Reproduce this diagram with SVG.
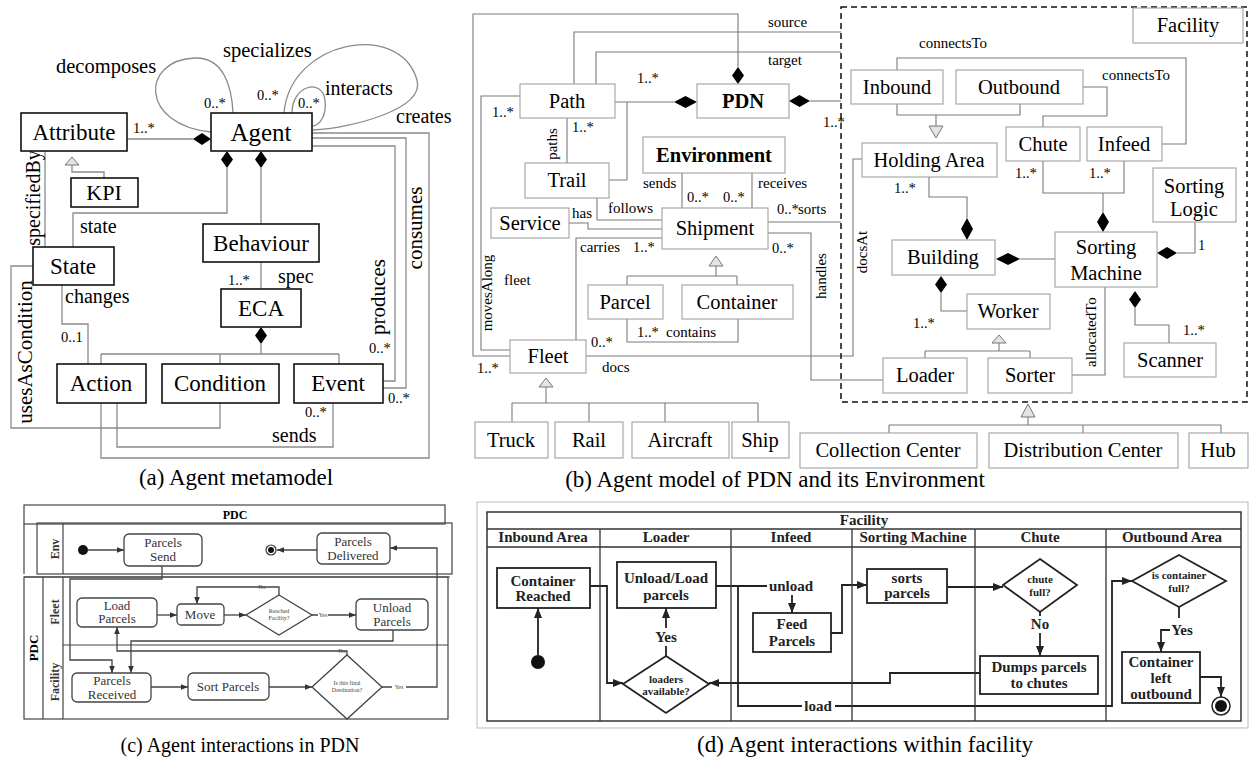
<svg xmlns="http://www.w3.org/2000/svg" width="1249" height="761" viewBox="0 0 1249 761">
<defs>
<style>
text{font-family:"Liberation Serif","Times New Roman",serif;fill:#000}
.ba{fill:#fff;stroke:#111;stroke-width:1.6}
.bb{fill:#fff;stroke:#a0a0a0;stroke-width:1.1}
.la{fill:none;stroke:#8a8a8a;stroke-width:1.3}
.lb{fill:none;stroke:#7a7a7a;stroke-width:1.1}
.dia{fill:#000}
.gen{fill:#e4e4e4;stroke:#777;stroke-width:1}
.ta{font-size:23px;text-anchor:middle}
.tb{font-size:20.5px;text-anchor:middle}
.l20{font-size:20px}
.l15{font-size:15px}
.m{font-size:14.5px}
.cap{font-size:23px;text-anchor:middle}
.bc{fill:#fff;stroke:#444;stroke-width:1.3}
.lc{fill:none;stroke:#444;stroke-width:1.3}
.tc{font-size:13px;text-anchor:middle;fill:#333}
.ts{font-size:6px;text-anchor:middle;fill:#444}
.bd{fill:#fff;stroke:#222;stroke-width:1.8}
.ld{fill:none;stroke:#222;stroke-width:1.8}
.td{font-size:15px;font-weight:bold;text-anchor:middle;fill:#222}
.tdd{font-size:11px;font-weight:bold;text-anchor:middle;fill:#222}
.mid{text-anchor:middle}
</style>
<marker id="ah" viewBox="0 0 10 8" refX="10" refY="4" markerWidth="10" markerHeight="8" markerUnits="userSpaceOnUse" orient="auto"><path d="M0,0 L10,4 L0,8 z" fill="#222"/></marker>
<marker id="ahs" viewBox="0 0 10 8" refX="10" refY="4" markerWidth="7" markerHeight="6" markerUnits="userSpaceOnUse" orient="auto"><path d="M0,0 L10,4 L0,8 z" fill="#333"/></marker>
</defs>
<rect width="1249" height="761" fill="#fff"/>

<g id="connectors">
<g id="a-connectors">
<path class="la" d="M127,139 H193"/>
<polygon class="dia" points="193,139 202,133 211,139 202,145"/>
<path class="la" d="M211,132 C140,125 140,60 195,58 C225,57 232,90 233,113"/>
<path class="la" d="M284,113 C290,40 400,20 417,80 C425,110 350,128 313,130"/>
<path class="la" d="M292,113 C292,85 322,78 325,100 C327,115 320,125 313,126"/>
<polygon class="gen" points="72,157 79,165 65,165"/>
<path class="la" d="M72,165 V172 H104 V178"/>
<path class="la" d="M45,151 V247"/>
<polygon class="dia" points="227,151 233,159.5 227,168 221,159.5"/>
<polygon class="dia" points="261,151 267,159.5 261,168 255,159.5"/>
<path class="la" d="M227,168 V213 H73 V247"/>
<path class="la" d="M261,168 V224"/>
<path class="la" d="M33,266 H11 V428 H220 V403"/>
<path class="la" d="M62,285 V324 H88 V364"/>
<path class="la" d="M261,262 V289"/>
<polygon class="dia" points="261,327 267,335.5 261,344 255,335.5"/>
<path class="la" d="M261,344 V354 M101,354 H339 M101,354 V364 M220,354 V364 M339,354 V364"/>
<path class="la" d="M117,403 V447 H333 V403"/>
<path class="la" d="M312,133 H429 V458 H101 V403"/>
<path class="la" d="M312,138 H406 V388 H383"/>
<path class="la" d="M312,146 H395 V381 H383"/>
</g>

<g id="b-connectors">
<path class="lb" d="M738,67 V14 H473 V356 H510"/>
<polygon class="dia" points="738,67 744,75.5 738,84 732,75.5"/>
<path class="lb" d="M574,84 V32 H841"/>
<path class="lb" d="M596,84 V52 H841"/>
<path class="lb" d="M615,102 H674"/>
<polygon class="dia" points="674,102 685.5,96 697,102 685.5,108"/>
<path class="lb" d="M810,101 H841"/>
<polygon class="dia" points="789,101 799.5,95 810,101 799.5,107"/>
<path class="lb" d="M520,96 H481 V350 H510"/>
<path class="lb" d="M567,118 V163"/>
<path class="lb" d="M609,180 H627 V102"/>
<path class="lb" d="M597,198 V220 H662"/>
<path class="lb" d="M569,223 H588 V229 H662"/>
<path class="lb" d="M682,173 V208"/>
<path class="lb" d="M752,173 V208"/>
<path class="lb" d="M662,238 H576 V340"/>
<path class="lb" d="M768,222 H841"/>
<path class="lb" d="M768,233 H811 V380 H883"/>
<path class="lb" d="M586,356 H853 V159 H862"/>
<polygon class="gen" points="716,256 723,266 709,266"/>
<path class="lb" d="M716,266 V276 M627,276 H737 M627,276 V285 M737,276 V285"/>
<path class="lb" d="M627,319 V342 H738 V319"/>
<polygon class="gen" points="546,378 553,387 539,387"/>
<path class="lb" d="M546,387 V403 M512,403 H758 M512,403 V422 M589,403 V422 M665,403 V422 M758,403 V422"/>
<path class="lb" d="M897,70 V58 H1186 V144 H1162"/>
<path class="lb" d="M1083,87 H1107 V116 H1043 V127"/>
<path class="lb" d="M897,104 V115 H1020 V104 M936,115 V126"/>
<polygon class="gen" points="929,126 943,126 936,138"/>
<path class="lb" d="M929,177 V197 H967 V218"/>
<polygon class="dia" points="967,218 973,229 967,240 961,229"/>
<path class="lb" d="M1043,161 V193 H1124 V161 M1103,193 V212"/>
<polygon class="dia" points="1103,212 1109,222 1103,232 1097,222"/>
<path class="lb" d="M1195,222 V253 H1177"/>
<polygon class="dia" points="1157,253 1167,247 1177,253 1167,259"/>
<path class="lb" d="M1020,259 H1055"/>
<polygon class="dia" points="996,259 1008,253 1020,259 1008,265"/>
<polygon class="dia" points="941,276 947,284.5 941,293 935,284.5"/>
<path class="lb" d="M941,293 V311 H967"/>
<polygon class="gen" points="999,335 1006,343 992,343"/>
<path class="lb" d="M999,343 V351 M925,351 H1030 M925,351 V358 M1030,351 V358"/>
<path class="lb" d="M1072,375 H1105 V287"/>
<polygon class="dia" points="1135,291 1141,299.5 1135,308 1129,299.5"/>
<path class="lb" d="M1135,308 V325 H1169 V343"/>
<polygon class="gen" points="1028,404 1035,417 1021,417"/>
<path class="lb" d="M1028,417 V425 M889,425 H1221 M889,425 V433 M1083,425 V433 M1221,425 V433"/>
</g>

<g id="c-connectors">
<path class="lc" d="M88,550 H124" marker-end="url(#ahs)"/>
<path class="lc" d="M317,550 H277" marker-end="url(#ahs)"/>
<path class="lc" d="M157,615 H177" marker-end="url(#ahs)"/>
<path class="lc" d="M224,615 H246" marker-end="url(#ahs)"/>
<path class="lc" d="M312,615 H318 M328,615 H356" marker-end="url(#ahs)"/>
<path class="lc" d="M279,595 V587 H197 V604" marker-end="url(#ahs)"/>
<path class="lc" d="M162,566 V579 H70 V660 H112 V673" marker-end="url(#ahs)"/>
<path class="lc" d="M393,630 V641 H131 V673" marker-end="url(#ahs)"/>
<path class="lc" d="M347,655 V651 H117 V627" marker-end="url(#ahs)"/>
<path class="lc" d="M151,687 H188" marker-end="url(#ahs)"/>
<path class="lc" d="M269,687 H312" marker-end="url(#ahs)"/>
<path class="lc" d="M382,687 H392 M406,687 H437 V548 H390" marker-end="url(#ahs)"/>
</g>

<g id="d-connectors">
<path class="ld" d="M538,655 V608" marker-end="url(#ah)"/>
<path class="ld" d="M590,586 H607 V683 H623" marker-end="url(#ah)"/>
<path class="ld" d="M666,656 V646"/>
<path class="ld" d="M666,628 V608" marker-end="url(#ah)"/>
<path class="ld" d="M716,586 H767"/>
<path class="ld" d="M792,595 V613" marker-end="url(#ah)"/>
<path class="ld" d="M738,586 V706 H802"/>
<path class="ld" d="M835,706 H1112 V581 H1132" marker-end="url(#ah)"/>
<path class="ld" d="M831,633 H842 V585 H867" marker-end="url(#ah)"/>
<path class="ld" d="M947,587 H1003" marker-end="url(#ah)"/>
<path class="ld" d="M1040,612 V616"/>
<path class="ld" d="M1040,633 V656" marker-end="url(#ah)"/>
<path class="ld" d="M980,673 H890 V683 H709" marker-end="url(#ah)"/>
<path class="ld" d="M1179,607 V618"/>
<path class="ld" d="M1170,630 H1161 V652" marker-end="url(#ah)"/>
<path class="ld" d="M1200,677 H1221 V697" marker-end="url(#ah)"/>
</g>
</g>

<g id="a-labels">
<text class="m" x="133" y="133">1..*</text>
<text class="l20" x="56" y="73" style="font-size:20.5px">decomposes</text>
<text class="l20" x="223" y="57" style="font-size:20.5px">specializes</text>
<text class="l20" x="325" y="95">interacts</text>
<text class="l20" x="396" y="123">creates</text>
<text class="m" x="204" y="108">0..*</text>
<text class="m" x="257" y="100">0..*</text>
<text class="m" x="298" y="108">0..*</text>
<text class="l20" x="80" y="233">state</text>
<text class="l20 mid" transform="translate(40,198) rotate(-90)">specifiedBy</text>
<text class="l20 mid" transform="translate(32,352) rotate(-90)" style="font-size:21px">usesAsCondition</text>
<text class="l20" x="65" y="303">changes</text>
<text class="m" x="61" y="342">0..1</text>
<text class="m" x="228" y="285">1..*</text>
<text class="l20" x="278" y="283">spec</text>
<text class="l20" x="272" y="442">sends</text>
<text class="m" x="305" y="417">0..*</text>
<text class="l20 mid" transform="translate(385,297) rotate(-90)" style="font-size:21px">produces</text>
<text class="l20 mid" transform="translate(422,228) rotate(-90)" style="font-size:21px">consumes</text>
<text class="m" x="369" y="353">0..*</text>
<text class="m" x="388" y="403">0..*</text>
</g>

<g id="a-attribute"><rect class="ba" x="21" y="113" width="106" height="38"/><text class="ta" x="74" y="140">Attribute</text></g>
<g id="a-agent"><rect class="ba" x="211" y="113" width="101" height="38"/><text class="ta" x="261" y="141" style="font-size:25px">Agent</text></g>
<g id="a-kpi"><rect class="ba" x="71" y="178" width="67" height="29"/><text class="ta" x="104" y="200" style="font-size:22px">KPI</text></g>
<g id="a-state"><rect class="ba" x="33" y="247" width="81" height="38"/><text class="ta" x="73" y="274">State</text></g>
<g id="a-behaviour"><rect class="ba" x="203" y="224" width="116" height="38"/><text class="ta" x="261" y="251">Behaviour</text></g>
<g id="a-eca"><rect class="ba" x="221" y="289" width="80" height="38"/><text class="ta" x="261" y="316">ECA</text></g>
<g id="a-action"><rect class="ba" x="57" y="364" width="89" height="39"/><text class="ta" x="101" y="391">Action</text></g>
<g id="a-condition"><rect class="ba" x="162" y="364" width="117" height="39"/><text class="ta" x="220" y="391">Condition</text></g>
<g id="a-event"><rect class="ba" x="294" y="364" width="89" height="39"/><text class="ta" x="338" y="391">Event</text></g>
<text class="cap" x="236" y="485">(a) Agent metamodel</text>

<g id="b-facility-frame"><rect x="841" y="7" width="406" height="395" fill="none" stroke="#111" stroke-width="1.5" stroke-dasharray="6,4"/></g>
<g id="b-labels">
<text class="l15" x="768" y="27">source</text>
<text class="l15" x="768" y="65">target</text>
<text class="m" x="637" y="83">1..*</text>
<text class="m" x="823" y="127">1..*</text>
<text class="m" x="492" y="117">1..*</text>
<text class="l15 mid" transform="translate(492,293) rotate(-90)">movesAlong</text>
<text class="l15" x="504" y="285">fleet</text>
<text class="l15 mid" transform="translate(557,144) rotate(-90)">paths</text>
<text class="m" x="572" y="132">1..*</text>
<text class="l15" x="608" y="213">follows</text>
<text class="l15" x="572" y="218">has</text>
<text class="l15" x="643" y="188">sends</text>
<text class="m" x="687" y="202">0..*</text>
<text class="m" x="723" y="202">0..*</text>
<text class="l15" x="758" y="188">receives</text>
<text class="l15" x="580" y="252">carries</text>
<text class="m" x="633" y="252">1..*</text>
<text class="m" x="777" y="214">0..*</text>
<text class="l15" x="798" y="214">sorts</text>
<text class="m" x="772" y="253">0..*</text>
<text class="l15 mid" transform="translate(826,276) rotate(-90)">handles</text>
<text class="l15 mid" transform="translate(867,252) rotate(-90)">docsAt</text>
<text class="m" x="591" y="347">0..*</text>
<text class="l15" x="602" y="372">docs</text>
<text class="m" x="477" y="373">1..*</text>
<text class="m" x="637" y="337">1..*</text>
<text class="l15" x="666" y="337">contains</text>
<text class="l15" x="919" y="48">connectsTo</text>
<text class="l15" x="1102" y="80">connectsTo</text>
<text class="m" x="894" y="193">1..*</text>
<text class="m" x="1015" y="178">1..*</text>
<text class="m" x="1089" y="178">1..*</text>
<text class="m" x="1198" y="250">1</text>
<text class="m" x="913" y="328">1..*</text>
<text class="m" x="1183" y="335">1..*</text>
<text class="l15 mid" transform="translate(1096,332) rotate(-90)">allocatedTo</text>
</g>
<g id="b-path"><rect class="bb" x="520" y="84" width="95" height="34"/><text class="tb" x="567" y="108">Path</text></g>
<g id="b-pdn"><rect class="bb" x="697" y="84" width="92" height="34"/><text class="tb" x="743" y="108" font-weight="bold">PDN</text></g>
<g id="b-trail"><rect class="bb" x="525" y="163" width="84" height="35"/><text class="tb" x="567" y="187">Trail</text></g>
<g id="b-environment"><rect class="bb" x="643" y="137" width="142" height="36"/><text class="tb" x="714" y="162" font-weight="bold">Environment</text></g>
<g id="b-service"><rect class="bb" x="491" y="208" width="78" height="30"/><text class="tb" x="530" y="230">Service</text></g>
<g id="b-shipment"><rect class="bb" x="662" y="208" width="106" height="41"/><text class="tb" x="715" y="235">Shipment</text></g>
<g id="b-parcel"><rect class="bb" x="588" y="285" width="75" height="34"/><text class="tb" x="625" y="309">Parcel</text></g>
<g id="b-container"><rect class="bb" x="682" y="285" width="111" height="34"/><text class="tb" x="737" y="309">Container</text></g>
<g id="b-fleet"><rect class="bb" x="510" y="340" width="76" height="33"/><text class="tb" x="548" y="363">Fleet</text></g>
<g id="b-truck"><rect class="bb" x="475" y="422" width="73" height="36"/><text class="tb" x="511" y="447">Truck</text></g>
<g id="b-rail"><rect class="bb" x="555" y="422" width="68" height="36"/><text class="tb" x="589" y="447">Rail</text></g>
<g id="b-aircraft"><rect class="bb" x="632" y="422" width="97" height="36"/><text class="tb" x="680" y="447">Aircraft</text></g>
<g id="b-ship"><rect class="bb" x="732" y="422" width="57" height="36"/><text class="tb" x="760" y="447">Ship</text></g>
<g id="b-facility"><rect class="bb" x="1133" y="8" width="110" height="35"/><text class="tb" x="1188" y="32">Facility</text></g>
<g id="b-inbound"><rect class="bb" x="851" y="70" width="92" height="34"/><text class="tb" x="897" y="94">Inbound</text></g>
<g id="b-outbound"><rect class="bb" x="956" y="70" width="127" height="34"/><text class="tb" x="1019" y="94">Outbound</text></g>
<g id="b-holding"><rect class="bb" x="862" y="143" width="135" height="34"/><text class="tb" x="929" y="167">Holding Area</text></g>
<g id="b-chute"><rect class="bb" x="1006" y="127" width="74" height="34"/><text class="tb" x="1043" y="151">Chute</text></g>
<g id="b-infeed"><rect class="bb" x="1087" y="127" width="75" height="34"/><text class="tb" x="1124" y="151">Infeed</text></g>
<g id="b-sortinglogic"><rect class="bb" x="1153" y="168" width="83" height="54"/><text class="tb" x="1194" y="193">Sorting</text><text class="tb" x="1194" y="216">Logic</text></g>
<g id="b-sortingmachine"><rect class="bb" x="1055" y="232" width="102" height="55"/><text class="tb" x="1106" y="254">Sorting</text><text class="tb" x="1106" y="280">Machine</text></g>
<g id="b-building"><rect class="bb" x="892" y="240" width="103" height="35"/><text class="tb" x="943" y="264">Building</text></g>
<g id="b-worker"><rect class="bb" x="967" y="294" width="83" height="35"/><text class="tb" x="1008" y="318">Worker</text></g>
<g id="b-loader"><rect class="bb" x="883" y="358" width="84" height="35"/><text class="tb" x="925" y="382">Loader</text></g>
<g id="b-sorter"><rect class="bb" x="988" y="358" width="84" height="35"/><text class="tb" x="1030" y="382">Sorter</text></g>
<g id="b-scanner"><rect class="bb" x="1124" y="343" width="92" height="34"/><text class="tb" x="1170" y="367">Scanner</text></g>
<g id="b-collection"><rect class="bb" x="800" y="433" width="177" height="35"/><text class="tb" x="888" y="457">Collection Center</text></g>
<g id="b-distribution"><rect class="bb" x="989" y="433" width="189" height="35"/><text class="tb" x="1083" y="457">Distribution Center</text></g>
<g id="b-hub"><rect class="bb" x="1189" y="433" width="59" height="35"/><text class="tb" x="1218" y="457">Hub</text></g>
<text class="cap" x="775" y="487">(b) Agent model of PDN and its Environment</text>

<g id="c-frame" fill="none" stroke="#444" stroke-width="1.2">
<rect x="24" y="505" width="421" height="19"/>
<path d="M24,524 V574"/>
<rect x="37" y="523" width="415" height="51"/>
<path d="M63,523 V574"/>
<path d="M24,577 H450"/>
<rect x="24" y="577" width="424" height="142"/>
<path d="M43,577 V719 M63,577 V719 M63,645 H448"/>
</g>
<g id="c-titles">
<text x="235" y="519" class="mid" style="font-size:12px;font-weight:bold">PDC</text>
<text class="mid" transform="translate(59,549) rotate(-90)" style="font-size:12px;font-weight:bold;fill:#333">Env</text>
<text class="mid" transform="translate(38,648) rotate(-90)" style="font-size:13px;font-weight:bold">PDC</text>
<text class="mid" transform="translate(59,612) rotate(-90)" style="font-size:12px;font-weight:bold;fill:#333">Fleet</text>
<text class="mid" transform="translate(59,682) rotate(-90)" style="font-size:12px;font-weight:bold;fill:#333">Facility</text>
</g>
<g id="c-start"><circle cx="83" cy="550" r="5" fill="#111"/></g>
<g id="c-send"><rect class="bc" x="124" y="534" width="78" height="32" rx="5"/><text class="tc" x="163" y="547">Parcels</text><text class="tc" x="163" y="561">Send</text></g>
<g id="c-end"><circle cx="271" cy="550" r="5" fill="#fff" stroke="#333" stroke-width="1.2"/><circle cx="271" cy="550" r="3" fill="#111"/></g>
<g id="c-delivered"><rect class="bc" x="317" y="533" width="73" height="31" rx="5"/><text class="tc" x="353" y="546">Parcels</text><text class="tc" x="353" y="560">Delivered</text></g>
<g id="c-load"><rect class="bc" x="77" y="598" width="80" height="29" rx="5"/><text class="tc" x="117" y="610">Load</text><text class="tc" x="117" y="623">Parcels</text></g>
<g id="c-move"><rect class="bc" x="177" y="604" width="47" height="21" rx="4"/><text class="tc" x="200" y="619">Move</text></g>
<g id="c-reached"><polygon class="bc" points="279,595 312,615 279,635 246,615"/><text class="ts" x="279" y="613">Reached</text><text class="ts" x="279" y="620">Facility?</text></g>
<g id="c-unload"><rect class="bc" x="356" y="599" width="72" height="31" rx="5"/><text class="tc" x="392" y="612">Unload</text><text class="tc" x="392" y="626">Parcels</text></g>
<g id="c-received"><rect class="bc" x="72" y="673" width="79" height="29" rx="5"/><text class="tc" x="112" y="685">Parcels</text><text class="tc" x="112" y="699">Received</text></g>
<g id="c-sort"><rect class="bc" x="188" y="673" width="81" height="27" rx="5"/><text class="tc" x="228" y="691">Sort Parcels</text></g>
<g id="c-dest"><polygon class="bc" points="347,655 382,687 347,719 312,687"/><text class="ts" x="347" y="685">Is this final</text><text class="ts" x="347" y="692">Destination?</text></g>
<g id="c-labels">
<text class="ts" x="323" y="617">Yes</text>
<text class="ts" x="262" y="589">No</text>
<text class="ts" x="342" y="653">No</text>
<text class="ts" x="399" y="689">Yes</text>
</g>
<text class="cap" x="240" y="752" style="font-size:20px">(c) Agent interactions in PDN</text>

<g id="d-frame">
<rect x="477" y="502" width="771" height="226" fill="none" stroke="#bbb" stroke-width="1"/>
<rect x="487" y="512" width="754" height="209" fill="none" stroke="#333" stroke-width="1.5"/>
<path d="M487,529 H1241 M487,547 H1241 M600,529 V721 M731,529 V721 M852,529 V721 M975,529 V721 M1106,529 V721" fill="none" stroke="#333" stroke-width="1.3"/>
<text class="td" x="864" y="525">Facility</text>
<text class="td" x="543" y="542">Inbound Area</text>
<text class="td" x="666" y="542">Loader</text>
<text class="td" x="791" y="542">Infeed</text>
<text class="td" x="913" y="542">Sorting Machine</text>
<text class="td" x="1040" y="542">Chute</text>
<text class="td" x="1172" y="542">Outbound Area</text>
</g>
<g id="d-start"><circle cx="538" cy="662" r="7" fill="#111"/></g>
<g id="d-reached"><rect class="bd" x="497" y="568" width="93" height="40"/><text class="td" x="543" y="586">Container</text><text class="td" x="543" y="601">Reached</text></g>
<g id="d-unloadload"><rect class="bd" x="617" y="562" width="99" height="46"/><text class="td" x="666" y="583">Unload/Load</text><text class="td" x="666" y="600">parcels</text></g>
<g id="d-loaders"><polygon class="bd" points="666,656 709,684 666,713 623,684"/><text class="tdd" x="666" y="683">loaders</text><text class="tdd" x="666" y="695">available?</text></g>
<g id="d-feed"><rect class="bd" x="753" y="613" width="78" height="39"/><text class="td" x="792" y="629">Feed</text><text class="td" x="792" y="646">Parcels</text></g>
<g id="d-sorts"><rect class="bd" x="867" y="569" width="80" height="34"/><text class="td" x="907" y="583">sorts</text><text class="td" x="907" y="598">parcels</text></g>
<g id="d-chutefull"><polygon class="bd" points="1040,559 1077,585 1040,612 1003,585"/><text class="tdd" x="1040" y="583">chute</text><text class="tdd" x="1040" y="596">full?</text></g>
<g id="d-dumps"><rect class="bd" x="980" y="656" width="118" height="38"/><text class="td" x="1039" y="672">Dumps parcels</text><text class="td" x="1039" y="688">to chutes</text></g>
<g id="d-containerfull"><polygon class="bd" points="1179,555 1226,581 1179,607 1132,581"/><text class="tdd" x="1179" y="579">is container</text><text class="tdd" x="1179" y="592">full?</text></g>
<g id="d-left"><rect class="bd" x="1122" y="652" width="78" height="51"/><text class="td" x="1161" y="667">Container</text><text class="td" x="1161" y="683">left</text><text class="td" x="1161" y="699">outbound</text></g>
<g id="d-end"><circle cx="1221" cy="706" r="9" fill="#fff" stroke="#222" stroke-width="1.5"/><circle cx="1221" cy="706" r="6" fill="#111"/></g>
<g id="d-labels">
<text class="td" x="666" y="642">Yes</text>
<text class="td" x="791" y="591">unload</text>
<text class="td" x="818" y="711">load</text>
<text class="td" x="1040" y="629">No</text>
<text class="td" x="1182" y="635">Yes</text>
</g>
<text class="cap" x="865" y="752">(d) Agent interactions within facility</text>
</svg>
